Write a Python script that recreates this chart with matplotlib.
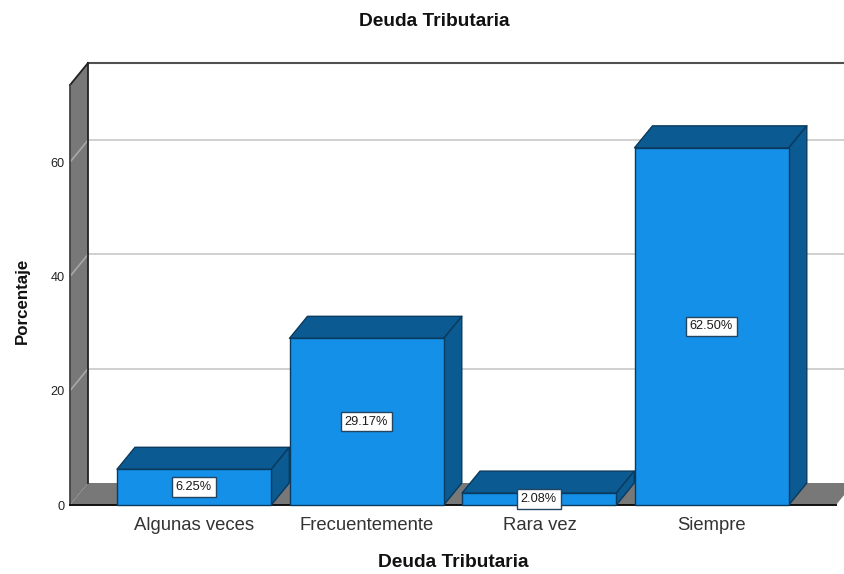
import matplotlib
matplotlib.use("Agg")
import matplotlib.pyplot as plt
from matplotlib.patches import Polygon, Rectangle

plt.rcParams['font.family'] = ['Liberation Sans', 'DejaVu Sans']

categories = ["Algunas veces", "Frecuentemente", "Rara vez", "Siempre"]
values = [6.25, 29.17, 2.08, 62.50]
value_labels = ["6.25%", "29.17%", "2.08%", "62.50%"]
yticks = [0, 20, 40, 60]
title = "Deuda Tributaria"
xlabel = "Deuda Tributaria"
ylabel = "Porcentaje"

W, H = 844, 574
FRONT = '#1490E9'
DARK = '#0B5A91'
EDGE = '#0A3A5E'
WALL = '#787878'
GRID = '#C8C8C8'

fig = plt.figure(figsize=(W / 100, H / 100), dpi=100, facecolor='white')
ax = fig.add_axes([70 / W, 1 - 505 / H, (W - 70) / W, 420 / H])
ax.set_facecolor('none')
x0, x1 = -0.7217, 3.7652
y0, y1 = 0, 73.5
ax.set_xlim(x0, x1)
ax.set_ylim(y0, y1)
for s in ax.spines.values():
    s.set_visible(False)

# depth of the 3-D extrusion, in data units
dx, dy = 0.1043, 3.85
bw = 0.8945
xshift = -0.002
floor_end = 3.7186


def poly(pts, fc, ec='none', lw=0, z=1):
    ax.add_patch(Polygon(pts, closed=True, facecolor=fc, edgecolor=ec,
                         linewidth=lw, zorder=z, clip_on=False, joinstyle='round'))


# left wall and floor
poly([(x0, y0), (x0 + dx, dy), (x0 + dx, y1 + dy), (x0, y1)], WALL, z=1)
poly([(x0, y0), (x0 + dx, dy), (floor_end + dx, dy), (floor_end, y0)], WALL, z=1)

# gridlines on side wall and back wall
for t in yticks[1:]:
    ax.plot([x0, x0 + dx], [t, t + dy], color='#A8A8A8', lw=1.2, zorder=2, clip_on=False)
    ax.plot([x0 + dx, x1], [t + dy, t + dy], color=GRID, lw=1.2, zorder=2, clip_on=False)

# frame lines
ax.plot([x0 + dx, x1], [y1 + dy, y1 + dy], color='#505050', lw=1.5, zorder=3, clip_on=False)
ax.plot([x0 + dx, x0 + dx], [dy, y1 + dy], color='#222222', lw=1.3, zorder=3, clip_on=False)
ax.plot([x0, x0 + dx], [y1, y1 + dy], color='#222222', lw=1.3, zorder=3, clip_on=False)
ax.plot([x0, x0], [y0, y1], color='#444444', lw=1.3, zorder=3, clip_on=False)
ax.plot([x0, floor_end], [y0, y0], color='#111111', lw=1.4, zorder=3, clip_on=False)

# bars
for i, v in enumerate(values):
    z = 4 + i
    l, r = i + xshift - bw / 2, i + xshift + bw / 2
    poly([(l, v), (l + dx, v + dy), (r + dx, v + dy), (r, v)], DARK, EDGE, 1.0, z)
    poly([(r, 0), (r + dx, dy), (r + dx, v + dy), (r, v)], DARK, EDGE, 1.0, z)
    ax.add_patch(Rectangle((l, 0), bw, v, facecolor=FRONT, edgecolor=EDGE,
                           linewidth=1.0, zorder=z + 0.1, clip_on=False))

# value labels
for i, (v, lab) in enumerate(zip(values, value_labels)):
    ax.text(i - 0.005, v / 2, lab, ha='center', va='center', fontsize=9.2, color='#1a1a1a',
            zorder=20, bbox=dict(boxstyle='square,pad=0.3', facecolor='white',
                                 edgecolor='#24455F', linewidth=1.0))

ax.set_xticks(range(len(categories)))
ax.set_xticklabels(categories, fontsize=13.3, color='#333333')
ax.set_yticks(yticks)
ax.set_yticklabels([str(t) for t in yticks], fontsize=9.2, color='#222222')
ax.tick_params(axis='both', length=0)
ax.tick_params(axis='x', pad=9)
ax.tick_params(axis='y', pad=4)

fig.text(434.5 / W, 1 - 21.5 / H, title, ha='center', va='center',
         fontsize=13.8, fontweight='bold', color='#111111')
fig.text(453.5 / W, 1 - 562.5 / H, xlabel, ha='center', va='center',
         fontsize=13.8, fontweight='bold', color='#111111')
fig.text(22 / W, 1 - 301 / H, ylabel, ha='center', va='center', rotation=90,
         fontsize=12.2, fontweight='bold', color='#111111')

fig.savefig('out.png', dpi=100)
